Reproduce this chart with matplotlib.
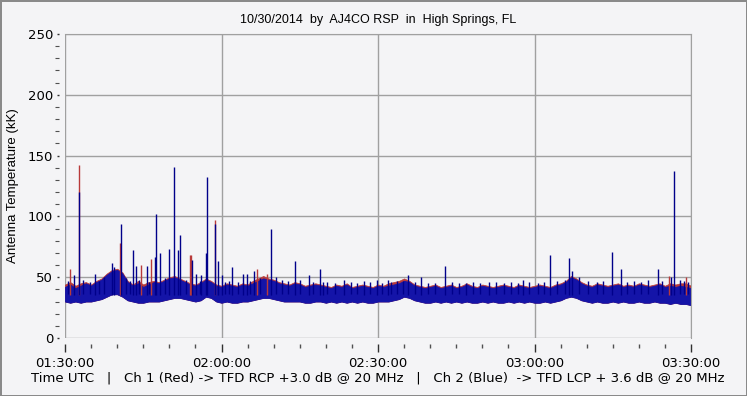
import matplotlib
matplotlib.use('Agg')
import matplotlib.pyplot as plt
import numpy as np

# minutes after 01:30:00 UTC, one sample per minute (band envelope)
minutes = list(range(121))
blue_high = [42, 44, 41, 43, 45, 43, 46, 48, 52, 55, 56, 53, 46, 43, 45, 42, 44, 46, 45, 47,
             49, 50, 48, 46, 44, 43, 45, 48, 46, 43, 42, 44, 43, 42, 44, 43, 45, 47, 49, 48,
             47, 45, 44, 43, 45, 44, 42, 43, 44, 43, 42, 41, 43, 42, 44, 41, 42, 43, 42, 41,
             43, 42, 43, 44, 45, 47, 46, 43, 42, 41, 42, 43, 41, 42, 43, 41, 42, 44, 42, 41,
             43, 42, 41, 42, 43, 42, 41, 43, 42, 41, 42, 43, 42, 41, 43, 44, 46, 50, 48, 45,
             43, 42, 44, 43, 42, 43, 44, 42, 43, 42, 44, 43, 42, 43, 44, 42, 43, 42, 43, 42, 41]
blue_low = [30, 29, 30, 29, 30, 30, 31, 32, 34, 36, 36, 34, 31, 30, 29, 29, 30, 30, 30, 31,
            32, 33, 33, 32, 31, 30, 31, 34, 33, 30, 29, 30, 29, 29, 30, 30, 31, 32, 33, 33,
            32, 31, 30, 30, 30, 30, 29, 29, 30, 30, 29, 30, 29, 30, 29, 30, 29, 30, 29, 29,
            30, 30, 30, 31, 32, 34, 33, 31, 30, 29, 29, 30, 29, 30, 29, 30, 29, 30, 29, 29,
            30, 29, 30, 29, 29, 30, 29, 30, 29, 30, 29, 29, 30, 29, 30, 31, 33, 34, 33, 31,
            30, 29, 30, 29, 29, 30, 29, 30, 29, 29, 30, 29, 29, 30, 29, 29, 28, 29, 28, 28, 27]
red_high = [44, 46, 43, 45, 46, 44, 47, 49, 53, 56, 57, 54, 47, 44, 47, 44, 46, 47, 46, 48,
            50, 51, 49, 47, 45, 44, 46, 49, 47, 44, 43, 45, 44, 43, 45, 44, 47, 49, 51, 49,
            48, 46, 45, 44, 46, 45, 43, 44, 45, 44, 43, 42, 44, 43, 45, 42, 43, 44, 43, 42,
            44, 43, 45, 46, 47, 49, 47, 44, 43, 42, 43, 44, 42, 43, 44, 42, 43, 45, 43, 42,
            44, 43, 42, 43, 44, 43, 42, 44, 43, 42, 43, 44, 43, 42, 44, 45, 47, 51, 49, 46,
            44, 43, 45, 44, 43, 44, 45, 43, 44, 43, 45, 44, 43, 44, 45, 43, 45, 44, 45, 45, 43]

# isolated spikes (minute, peak kK)
blue_spike_t = [1.8, 2.6, 5.8, 9.0, 9.4, 10.8, 13.0, 13.6, 15.7, 17.2, 17.5, 18.3, 20.0, 20.8,
                21.7, 22.1, 24.4, 25.2, 26.1, 27.1, 27.3, 28.8, 29.4, 30.0, 32.1, 34.1, 34.8,
                36.2, 39.4, 44.0, 46.8, 48.9, 49.5, 53.4, 57.3, 59.9, 62.0, 65.7, 68.3, 72.9,
                76.9, 81.2, 87.8, 92.9, 96.7, 97.2, 104.9, 106.6, 113.6, 116.2, 116.8]
blue_spike_v = [52, 120, 53, 62, 58, 94, 72, 59, 59, 67, 102, 70, 73, 141,
                72, 85, 64, 53, 52, 70, 132, 94, 63, 52, 58, 53, 53,
                55, 90, 63, 52, 57, 46, 48, 47, 48, 48, 52, 50, 59,
                45, 46, 48, 68, 66, 55, 71, 57, 57, 50, 137]
# small noise peaks along the top of the band
blue_small_t = [0.6, 3.4, 4.7, 6.6, 7.5, 11.7, 12.4, 14.2, 16.1, 19.1, 23.2, 25.8, 30.7, 31.5,
                33.2, 35.5, 37.3, 40.5, 41.6, 42.8, 45.1, 47.5, 50.3, 51.7, 54.8, 56.0, 58.4,
                60.8, 62.5, 63.6, 64.8, 67.1, 69.6, 71.0, 74.1, 75.5, 78.2, 79.6, 82.7, 84.1,
                85.5, 86.9, 89.0, 90.6, 91.8, 94.3, 95.8, 98.6, 100.2, 101.9, 103.2, 107.8,
                109.0, 110.4, 111.7, 114.5, 117.8, 118.6, 119.5]
blue_small_v = [47, 48, 46, 47, 50, 49, 47, 48, 46, 49, 48, 47, 46, 47,
                46, 47, 49, 50, 48, 47, 48, 46, 46, 45, 46, 45, 46,
                45, 46, 47, 47, 46, 45, 45, 46, 45, 46, 45, 46, 45,
                46, 45, 46, 45, 46, 47, 48, 50, 47, 46, 47, 46,
                47, 46, 48, 47, 48, 47, 46]
red_spike_t = [1.0, 2.6, 10.6, 14.6, 16.5, 24.0, 24.2, 28.8, 36.8, 38.7, 115.7, 119.1]
red_spike_v = [57, 142, 78, 60, 65, 68, 68, 97, 57, 53, 51, 50]

time_ticks = [0, 30, 60, 90, 120]
time_labels = ['01:30:00', '02:00:00', '02:30:00', '03:00:00', '03:30:00']

bg = '#F4F4F6'
red = '#B83A3A'
blue = '#1414A8'
dark_blue = '#00008A'
grid_c = '#A0A0A0'

fig = plt.figure(figsize=(7.47, 3.96), dpi=100, facecolor=bg, edgecolor='#8A8A8A', linewidth=2)
ax = fig.add_axes([65 / 747, 1 - 338 / 396, 626 / 747, 304 / 396])
ax.set_facecolor(bg)

# red channel first, blue drawn on top
ax.fill_between(minutes, blue_low, red_high, color=red, linewidth=0.5, edgecolor=red)
ax.vlines(red_spike_t, 35, red_spike_v, color=red, linewidth=1.0)
ax.fill_between(minutes, blue_low, blue_high, color=blue, linewidth=0.6, edgecolor=blue)
ax.vlines(blue_small_t, 36, blue_small_v, color=dark_blue, linewidth=1.0)
ax.vlines(blue_spike_t, 35, blue_spike_v, color=dark_blue, linewidth=1.0)

ax.set_xlim(0, 120)
ax.set_ylim(0, 250)
ax.set_xticks(time_ticks)
ax.set_xticklabels(time_labels)
ax.set_xticks(np.arange(0, 121, 5), minor=True)
ax.set_yticks([0, 50, 100, 150, 200, 250])
ax.set_yticks(np.arange(0, 251, 10), minor=True)
ax.grid(True, which='major', color=grid_c, linewidth=1.0)
ax.set_axisbelow(True)

for s in ['top', 'right']:
    ax.spines[s].set_color(grid_c)
for s in ['left', 'bottom']:
    ax.spines[s].set_position(('outward', 4))
    ax.spines[s].set_visible(False)

ax.tick_params(axis='x', which='major', length=6, width=1, color='#303030', labelsize=9.5, pad=4)
ax.tick_params(axis='x', which='minor', length=3, width=1, color='#505050')
ax.tick_params(axis='y', which='major', length=1.5, width=1, color='#303030', labelsize=9.5, pad=3)
ax.tick_params(axis='y', which='minor', length=3, width=0.8, color='#505050')

ax.set_title('10/30/2014  by  AJ4CO RSP  in  High Springs, FL', fontsize=9,
             family='Liberation Sans', pad=8)
ax.set_ylabel('Antenna Temperature (kK)', fontsize=9.5, family='Liberation Sans', labelpad=6)
ax.set_xlabel('Time UTC   |   Ch 1 (Red) -> TFD RCP +3.0 dB @ 20 MHz   |   '
              'Ch 2 (Blue)  -> TFD LCP + 3.6 dB @ 20 MHz', fontsize=9.5, labelpad=1)

plt.savefig('out.png', dpi=100, facecolor=bg)
